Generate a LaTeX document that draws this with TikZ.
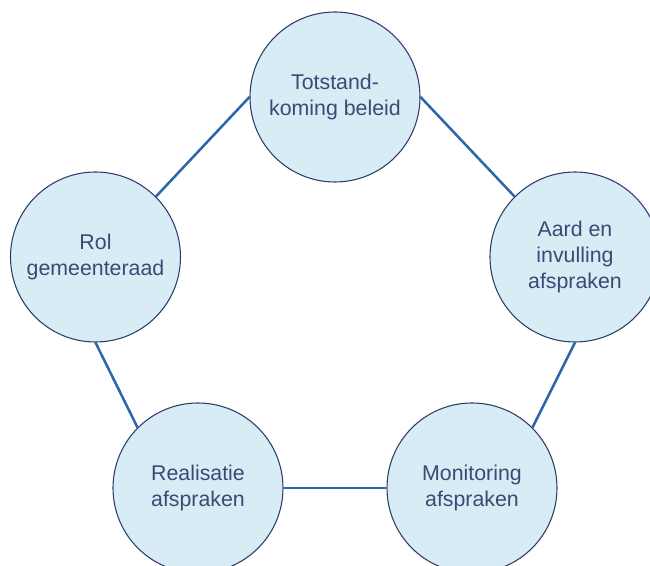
\documentclass[tikz,border=0pt]{standalone}
\usepackage{fontspec}
\setmainfont{Liberation Sans}
\definecolor{cfill}{HTML}{D7ECF5}
\definecolor{cborder}{HTML}{2E3B68}
\definecolor{ctext}{HTML}{3C4975}
\definecolor{cline}{HTML}{2B67AC}
\begin{document}
\begin{tikzpicture}[x=0.75pt,y=-0.75pt,
  bubble/.style={circle, draw=cborder, line width=0.8pt, fill=cfill, minimum size=127.5pt, inner sep=0pt,
    text=ctext, align=center, font=\fontsize{16}{19.5}\selectfont},
  link/.style={draw=cline, line width=1.9pt}]
\useasboundingbox (0,0) rectangle (650,566);
\node[bubble] (top) at (335,97) {Totstand-\\koming beleid};
\node[bubble] (left) at (95.5,257) {Rol\\gemeenteraad};
\node[bubble] (right) at (575,257) {Aard en\\invulling\\afspraken};
\node[bubble] (bl) at (198,488) {Realisatie\\afspraken};
\node[bubble] (br) at (472,488) {Monitoring\\afspraken};
\begin{scope}[on background layer/.style={}]
\end{scope}
\draw[link] (top.west) -- (left.45);
\draw[link] (top.east) -- (right.135);
\draw[link] (right.south) -- (br.45);
\draw[link] (br.west) -- (bl.east);
\draw[link] (bl.135) -- (left.south);
\end{tikzpicture}
\end{document}
